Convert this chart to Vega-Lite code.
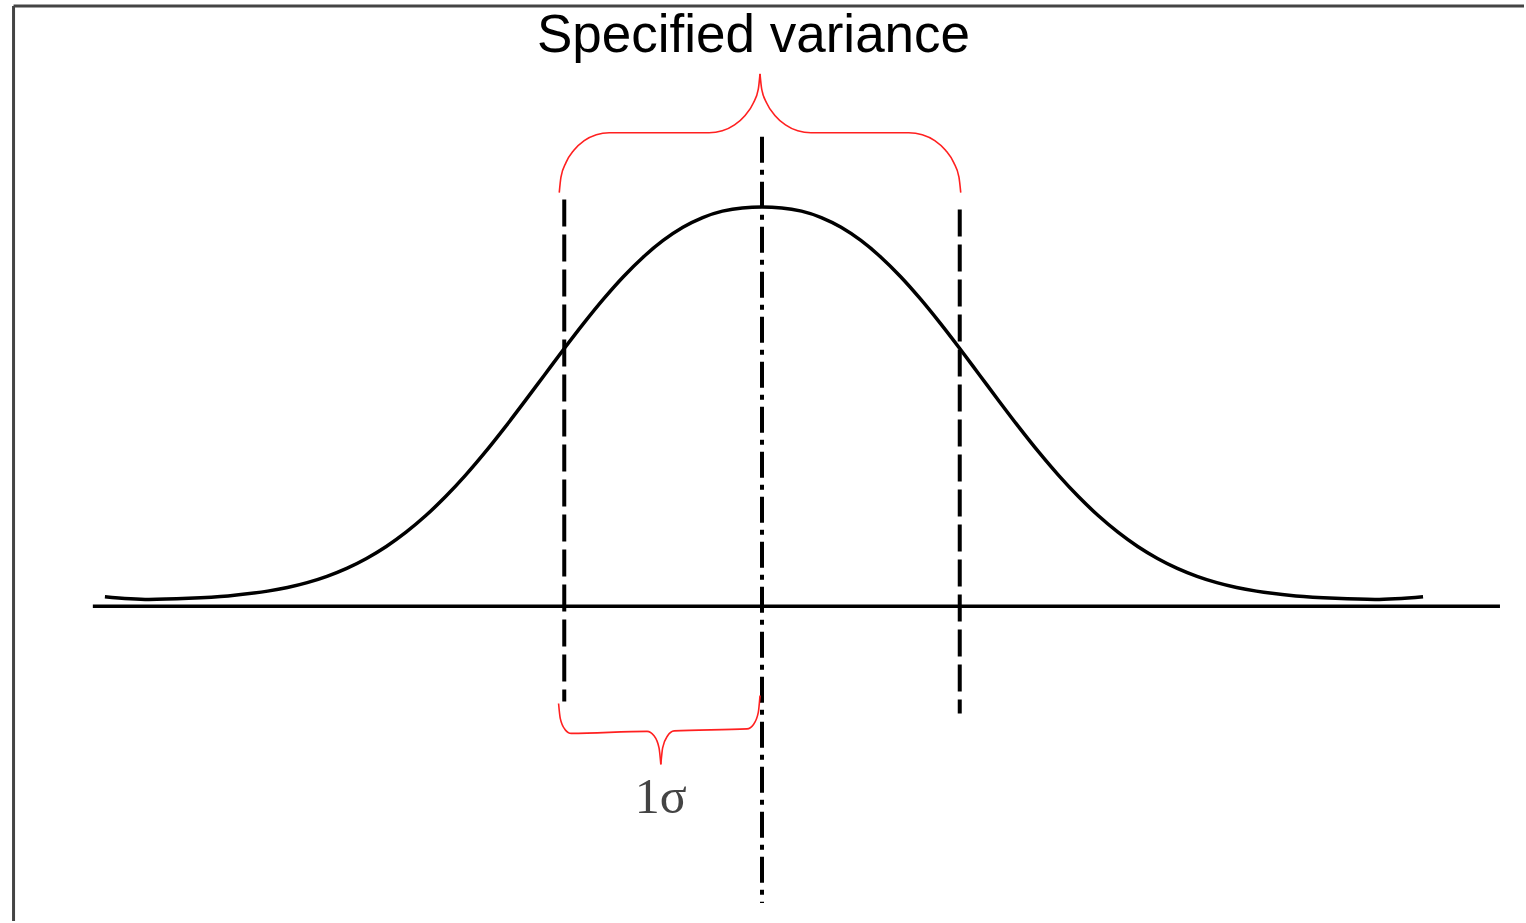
{
  "$schema": "https://vega.github.io/schema/vega-lite/v6.json",
  "autosize": {"type": "fit", "contains": "padding"},
  "width": 1526,
  "height": 923,
  "padding": 0,
  "background": "white",
  "config": {"view": {"stroke": null}},
  "datasets": {
    "curve": [
      {"z": -3.323, "h": 0.0238}, {"z": -3.1, "h": 0.017}, {"z": -2.9, "h": 0.0198}, {"z": -2.7, "h": 0.0258},
      {"z": -2.5, "h": 0.0377}, {"z": -2.4, "h": 0.0469}, {"z": -2.3, "h": 0.0591}, {"z": -2.2, "h": 0.0749},
      {"z": -2.1, "h": 0.0948}, {"z": -2.0, "h": 0.1196}, {"z": -1.9, "h": 0.1496}, {"z": -1.8, "h": 0.1854},
      {"z": -1.7, "h": 0.2271}, {"z": -1.6, "h": 0.2746}, {"z": -1.5, "h": 0.3277}, {"z": -1.4, "h": 0.3858},
      {"z": -1.3, "h": 0.448}, {"z": -1.2, "h": 0.513}, {"z": -1.1, "h": 0.5794}, {"z": -1.0, "h": 0.6456},
      {"z": -0.9, "h": 0.7098}, {"z": -0.8, "h": 0.7705}, {"z": -0.7, "h": 0.8261}, {"z": -0.6, "h": 0.875},
      {"z": -0.5, "h": 0.9164}, {"z": -0.4, "h": 0.9494}, {"z": -0.3, "h": 0.9738}, {"z": -0.2, "h": 0.9897},
      {"z": -0.1, "h": 0.9979}, {"z": 0.0, "h": 1.0}, {"z": 0.1, "h": 0.9979}, {"z": 0.2, "h": 0.9897},
      {"z": 0.3, "h": 0.9738}, {"z": 0.4, "h": 0.9494}, {"z": 0.5, "h": 0.9164}, {"z": 0.6, "h": 0.875},
      {"z": 0.7, "h": 0.8261}, {"z": 0.8, "h": 0.7705}, {"z": 0.9, "h": 0.7098}, {"z": 1.0, "h": 0.6456},
      {"z": 1.1, "h": 0.5794}, {"z": 1.2, "h": 0.513}, {"z": 1.3, "h": 0.448}, {"z": 1.4, "h": 0.3858},
      {"z": 1.5, "h": 0.3277}, {"z": 1.6, "h": 0.2746}, {"z": 1.7, "h": 0.2271}, {"z": 1.8, "h": 0.1854},
      {"z": 1.9, "h": 0.1496}, {"z": 2.0, "h": 0.1196}, {"z": 2.1, "h": 0.0948}, {"z": 2.2, "h": 0.0749},
      {"z": 2.3, "h": 0.0591}, {"z": 2.4, "h": 0.0469}, {"z": 2.5, "h": 0.0377}, {"z": 2.7, "h": 0.0258},
      {"z": 2.9, "h": 0.0198}, {"z": 3.1, "h": 0.017}, {"z": 3.343, "h": 0.0238}
    ],
    "upperBrace": [
      {"side": "L", "i": 0, "z": -1.0253, "h": 1.03625}, {"side": "L", "i": 1, "z": -1.0167, "h": 1.075},
      {"side": "L", "i": 2, "z": -0.9914, "h": 1.11125}, {"side": "L", "i": 3, "z": -0.9515, "h": 1.14225},
      {"side": "L", "i": 4, "z": -0.899, "h": 1.16625}, {"side": "L", "i": 5, "z": -0.8379, "h": 1.18125},
      {"side": "L", "i": 6, "z": -0.7727, "h": 1.18625}, {"side": "L", "i": 7, "z": -0.2677, "h": 1.18625},
      {"side": "L", "i": 8, "z": -0.201, "h": 1.19125}, {"side": "L", "i": 9, "z": -0.1389, "h": 1.206},
      {"side": "L", "i": 10, "z": -0.0854, "h": 1.2295}, {"side": "L", "i": 11, "z": -0.0444, "h": 1.26},
      {"side": "L", "i": 12, "z": -0.0187, "h": 1.2955}, {"side": "L", "i": 13, "z": -0.0101, "h": 1.33375},
      {"side": "R", "i": 13, "z": -0.0101, "h": 1.33375},
      {"side": "R", "i": 14, "z": -0.0015, "h": 1.2955}, {"side": "R", "i": 15, "z": 0.0242, "h": 1.26},
      {"side": "R", "i": 16, "z": 0.0652, "h": 1.2295}, {"side": "R", "i": 17, "z": 0.1187, "h": 1.206},
      {"side": "R", "i": 18, "z": 0.1808, "h": 1.19125}, {"side": "R", "i": 19, "z": 0.2475, "h": 1.18625},
      {"side": "R", "i": 20, "z": 0.7424, "h": 1.18625}, {"side": "R", "i": 21, "z": 0.8106, "h": 1.18125},
      {"side": "R", "i": 22, "z": 0.8737, "h": 1.16625}, {"side": "R", "i": 23, "z": 0.9283, "h": 1.14225},
      {"side": "R", "i": 24, "z": 0.9697, "h": 1.11125}, {"side": "R", "i": 25, "z": 0.996, "h": 1.075},
      {"side": "R", "i": 26, "z": 1.0051, "h": 1.03625}
    ],
    "lowerBrace": [
      {"side": "L", "i": 0, "z": -1.0288, "h": -0.24375}, {"side": "L", "i": 1, "z": -1.0202, "h": -0.28125},
      {"side": "L", "i": 2, "z": -0.9965, "h": -0.30875}, {"side": "L", "i": 3, "z": -0.9646, "h": -0.31875},
      {"side": "L", "i": 4, "z": -0.5808, "h": -0.31375}, {"side": "L", "i": 5, "z": -0.546, "h": -0.32475},
      {"side": "L", "i": 6, "z": -0.5207, "h": -0.355}, {"side": "L", "i": 7, "z": -0.5116, "h": -0.39625},
      {"side": "R", "i": 7, "z": -0.5116, "h": -0.39625},
      {"side": "R", "i": 8, "z": -0.5025, "h": -0.355}, {"side": "R", "i": 9, "z": -0.4773, "h": -0.32475},
      {"side": "R", "i": 10, "z": -0.4444, "h": -0.3125}, {"side": "R", "i": 11, "z": -0.0758, "h": -0.3075},
      {"side": "R", "i": 12, "z": -0.0429, "h": -0.29625}, {"side": "R", "i": 13, "z": -0.0187, "h": -0.26625},
      {"side": "R", "i": 14, "z": -0.0101, "h": -0.22375}
    ],
    "sigmaLines": [
      {"z": -1.0, "top": 1.01875, "bottom": -0.23875},
      {"z": 1.0, "top": 0.99375, "bottom": -0.26875}
    ],
    "meanLine": [{"z": 0.0, "top": 1.17625, "bottom": -0.74375}],
    "baseline": [{"z1": -3.384, "z2": 3.732, "h": 0.0}],
    "frameTop": [{"z1": -3.785, "z2": 3.8535, "h": 1.50375}],
    "frameLeft": [{"z": -3.785, "h1": 1.50375, "h2": -0.78875}],
    "title": [{"z": -0.0429, "h": 1.388, "label": "Specified variance"}],
    "sigmaLabel": [{"z": -0.5116, "h": -0.51875, "label": "1σ"}]
  },
  "layer": [
    {
      "data": {"name": "frameTop"},
      "mark": {"type": "rule", "stroke": "#444444", "strokeWidth": 3},
      "encoding": {
        "x": {"field": "z1", "type": "quantitative", "scale": {"domain": [-3.8535, 3.8535], "nice": false, "zero": false}, "axis": null},
        "x2": {"field": "z2"},
        "y": {"field": "h", "type": "quantitative", "scale": {"domain": [-0.78875, 1.51875], "nice": false, "zero": false}, "axis": null}
      }
    },
    {
      "data": {"name": "frameLeft"},
      "mark": {"type": "rule", "stroke": "#444444", "strokeWidth": 3},
      "encoding": {
        "x": {"field": "z", "type": "quantitative"},
        "y": {"field": "h1", "type": "quantitative"},
        "y2": {"field": "h2"}
      }
    },
    {
      "data": {"name": "baseline"},
      "mark": {"type": "rule", "stroke": "black", "strokeWidth": 3.5},
      "encoding": {
        "x": {"field": "z1", "type": "quantitative"},
        "x2": {"field": "z2"},
        "y": {"field": "h", "type": "quantitative"}
      }
    },
    {
      "data": {"name": "curve"},
      "mark": {"type": "line", "stroke": "black", "strokeWidth": 3.5, "interpolate": "monotone"},
      "encoding": {
        "x": {"field": "z", "type": "quantitative"},
        "y": {"field": "h", "type": "quantitative"}
      }
    },
    {
      "data": {"name": "sigmaLines"},
      "mark": {"type": "rule", "stroke": "black", "strokeWidth": 4, "strokeDash": [27, 8]},
      "encoding": {
        "x": {"field": "z", "type": "quantitative"},
        "y": {"field": "top", "type": "quantitative"},
        "y2": {"field": "bottom"}
      }
    },
    {
      "data": {"name": "meanLine"},
      "mark": {"type": "rule", "stroke": "black", "strokeWidth": 4, "strokeDash": [26, 7, 5, 7]},
      "encoding": {
        "x": {"field": "z", "type": "quantitative"},
        "y": {"field": "top", "type": "quantitative"},
        "y2": {"field": "bottom"}
      }
    },
    {
      "data": {"name": "upperBrace"},
      "mark": {"type": "line", "stroke": "#ff2020", "strokeWidth": 1.6, "interpolate": "monotone"},
      "encoding": {
        "x": {"field": "z", "type": "quantitative"},
        "y": {"field": "h", "type": "quantitative"},
        "detail": {"field": "side", "type": "nominal"},
        "order": {"field": "i", "type": "quantitative"}
      }
    },
    {
      "data": {"name": "lowerBrace"},
      "mark": {"type": "line", "stroke": "#ff2020", "strokeWidth": 1.6, "interpolate": "monotone"},
      "encoding": {
        "x": {"field": "z", "type": "quantitative"},
        "y": {"field": "h", "type": "quantitative"},
        "detail": {"field": "side", "type": "nominal"},
        "order": {"field": "i", "type": "quantitative"}
      }
    },
    {
      "data": {"name": "title"},
      "mark": {"type": "text", "font": "Liberation Sans", "fontSize": 53, "color": "black", "align": "center", "baseline": "alphabetic"},
      "encoding": {
        "x": {"field": "z", "type": "quantitative"},
        "y": {"field": "h", "type": "quantitative"},
        "text": {"field": "label"}
      }
    },
    {
      "data": {"name": "sigmaLabel"},
      "mark": {"type": "text", "font": "Liberation Serif", "fontSize": 50, "color": "#444444", "align": "center", "baseline": "alphabetic"},
      "encoding": {
        "x": {"field": "z", "type": "quantitative"},
        "y": {"field": "h", "type": "quantitative"},
        "text": {"field": "label"}
      }
    }
  ]
}
